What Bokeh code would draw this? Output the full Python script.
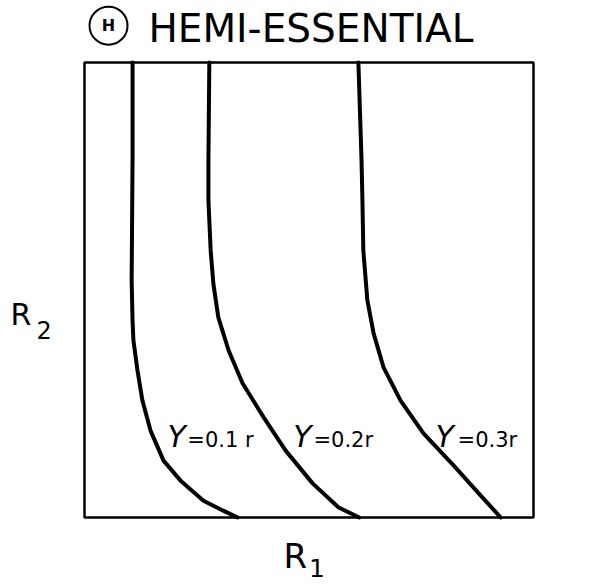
from bokeh.plotting import figure
from bokeh.models import Range1d, Label, BoxAnnotation
from bokeh.embed import file_html
from bokeh.resources import INLINE

# Curves (R1, R2 in 0..100 units)
c1_r1 = [10.7, 10.7, 10.5, 10.7, 10.9, 11.8, 12.9, 14.7, 17.6, 21.4, 26.5, 30.9, 34.1]
c1_r2 = [100, 78.5, 52.1, 43.3, 38.9, 32.3, 25.7, 19.1, 12.5, 8.1, 3.7, 1.5, 0]
c2_r1 = [27.8, 27.6, 27.6, 28.1, 28.7, 29.8, 32.1, 35.2, 39.9, 44.8, 50.8, 56.6, 61.2]
c2_r2 = [100, 78.5, 69.7, 58.7, 51.4, 44.0, 36.7, 29.5, 22.0, 14.7, 7.5, 2.2, 0]
c3_r1 = [61.0, 61.7, 61.9, 62.1, 63.0, 64.4, 66.6, 70.4, 75.5, 82.6, 87.8, 92.7]
c3_r2 = [100, 78.5, 69.7, 58.7, 47.7, 40.4, 33.0, 25.7, 18.5, 11.0, 5.3, 0]

curve_labels = ["=0.1 r", "=0.2r", "=0.3r"]
label_y_x = [18.5, 46.5, 78.2]
label_eq_x = [22.9, 51.0, 83.1]
label_y_base = 17.7
label_eq_base = 17.0

FONT = "DejaVu Sans"
W, H = 589, 588
SX, SY = 4.49, 4.55  # px per data unit
X0, Y0 = 84, 517     # pixel of data origin

p = figure(width=W, height=H, output_backend="svg", toolbar_location=None,
           x_range=Range1d(-X0 / SX, (W - X0) / SX),
           y_range=Range1d(-(H - Y0) / SY, Y0 / SY),
           min_border=0)
p.xaxis.visible = False
p.yaxis.visible = False
p.xgrid.visible = False
p.ygrid.visible = False
p.outline_line_color = None

# the R1-R2 box
p.add_layout(BoxAnnotation(left=0, right=100, bottom=0, top=100, fill_alpha=0,
                           line_color="black", line_width=2.5, line_alpha=1))

for xs, ys in [(c1_r1, c1_r2), (c2_r1, c2_r2), (c3_r1, c3_r2)]:
    p.line(xs, ys, line_color="black", line_width=4, line_cap="round", line_join="round")

for i in range(3):
    p.add_layout(Label(x=label_y_x[i], y=label_y_base, text="Y", text_font=FONT, text_color="black",
                       text_font_size="30px", text_font_style="italic", text_baseline="alphabetic"))
    p.add_layout(Label(x=label_eq_x[i], y=label_eq_base, text=curve_labels[i], text_font=FONT,
                       text_color="black", text_font_size="21px", text_baseline="alphabetic"))

# Title with circled letter
p.scatter([5.35], [108.1], size=38, marker="circle", fill_alpha=0, line_color="black", line_width=2)
p.add_layout(Label(x=5.35, y=108.1, text="H", text_font=FONT, text_font_size="16px", text_color="black",
                   text_font_style="bold", text_align="center", text_baseline="middle"))
p.add_layout(Label(x=14.25, y=107.4, text="HEMI-ESSENTIAL", text_font=FONT, text_color="black",
                   text_font_size="39px", text_baseline="alphabetic"))

# Axis labels
p.add_layout(Label(x=-16.5, y=44.6, text="R", text_font=FONT, text_font_size="30px",
                   text_color="black", text_baseline="alphabetic"))
p.add_layout(Label(x=-10.7, y=41.3, text="2", text_font=FONT, text_font_size="24px",
                   text_color="black", text_baseline="alphabetic"))
p.add_layout(Label(x=44.3, y=-8.4, text="R", text_font=FONT, text_font_size="34px",
                   text_color="black", text_baseline="alphabetic"))
p.add_layout(Label(x=50.0, y=-11.0, text="1", text_font=FONT, text_font_size="25px",
                   text_color="black", text_baseline="alphabetic"))

open("out.html", "w").write(file_html(p, INLINE))
